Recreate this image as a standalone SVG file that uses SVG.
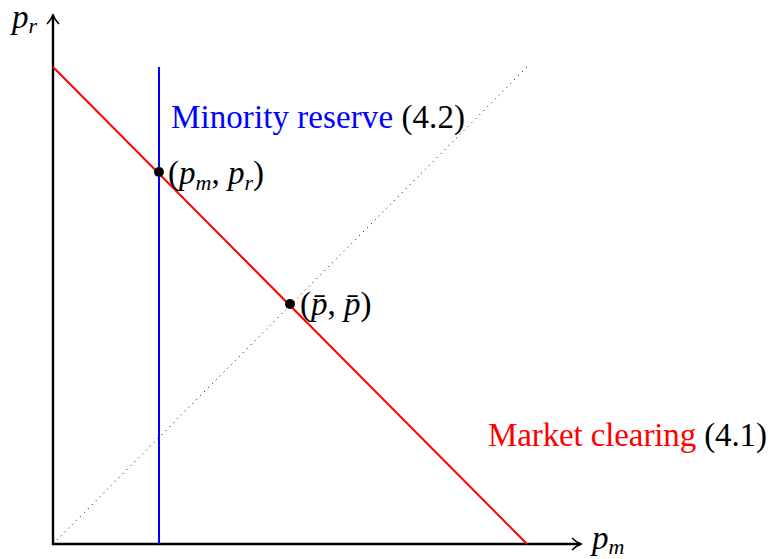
<svg xmlns="http://www.w3.org/2000/svg" width="777" height="559" viewBox="0 0 777 559">
<defs>
<marker id="arr" markerWidth="12" markerHeight="14" refX="10" refY="7" orient="auto" markerUnits="userSpaceOnUse">
<path d="M1,1 Q5,5 10,7 Q5,9 1,13" fill="none" stroke="#000" stroke-width="1.6"/>
</marker>
</defs>
<g id="axes" fill="none" stroke="#000" stroke-width="2.4">
<line x1="53" y1="545" x2="53" y2="15" marker-end="url(#arr)"/>
<line x1="52" y1="544" x2="581" y2="544" marker-end="url(#arr)"/>
</g>
<g id="connectors" fill="none">
<line id="diag" x1="53" y1="544" x2="527" y2="67" stroke="#000" stroke-width="1" stroke-dasharray="1,4.5"/>
<line id="market" x1="53" y1="67" x2="527" y2="544" stroke="#ff0000" stroke-width="2"/>
<line id="minority" x1="159" y1="67" x2="159" y2="544" stroke="#0000ff" stroke-width="2"/>
</g>
<g id="point1"><circle cx="159" cy="172" r="5"/><text font-family="Liberation Serif, 'DejaVu Serif', serif" font-size="33" x="168" y="184">(<tspan font-style="italic">p</tspan><tspan font-size="22" font-style="italic" dy="6">m</tspan><tspan dy="-6">, </tspan><tspan font-style="italic">p</tspan><tspan font-size="22" font-style="italic" dy="6">r</tspan><tspan dy="-6">)</tspan></text></g>
<g id="point2"><circle cx="290" cy="304" r="5"/><text font-family="Liberation Serif, 'DejaVu Serif', serif" font-size="33" x="300" y="315">(<tspan font-style="italic">p̄</tspan>, <tspan font-style="italic">p̄</tspan>)</text></g>
<g id="label-minority"><text font-family="Liberation Serif, 'DejaVu Serif', serif" font-size="33" x="171" y="128" textLength="294"><tspan fill="#0000ff">Minority reserve</tspan> (4.2)</text></g>
<g id="label-market"><text font-family="Liberation Serif, 'DejaVu Serif', serif" font-size="33" x="488" y="446" textLength="279"><tspan fill="#ff0000">Market clearing</tspan> (4.1)</text></g>
<g id="label-pr"><text font-family="Liberation Serif, 'DejaVu Serif', serif" font-size="33" x="12" y="28"><tspan font-style="italic">p</tspan><tspan font-size="22" font-style="italic" dy="5">r</tspan></text></g>
<g id="label-pm"><text font-family="Liberation Serif, 'DejaVu Serif', serif" font-size="33" x="592" y="549"><tspan font-style="italic">p</tspan><tspan font-size="22" font-style="italic" dy="5">m</tspan></text></g>
</svg>
